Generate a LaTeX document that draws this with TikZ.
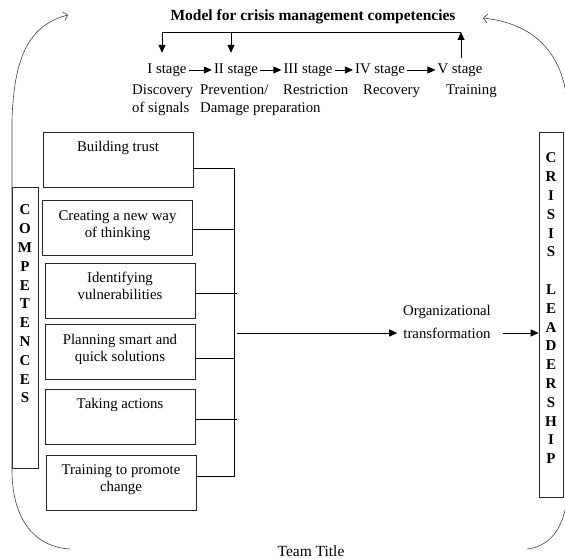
\documentclass[tikz,border=0pt]{standalone}
\usepackage{fontspec}
\setmainfont{Liberation Serif}
\usetikzlibrary{arrows.meta}
\tikzset{
  compbox/.style={draw=black!85, line width=0.7pt, inner sep=0pt, minimum width=150pt, minimum height=55pt},
  stage/.style={inner sep=2pt, text height=10pt, text depth=3pt, font=\fontsize{14.8}{17}\selectfont},
  desc/.style={inner sep=0pt, align=left, anchor=north west, font=\fontsize{14.8}{18}\selectfont},
  letterbox/.style={draw=black!85, line width=0.7pt, inner sep=0pt},
  arr/.style={-{Triangle[length=8pt,width=7pt]}, line width=0.8pt},
  cyclearrow/.style={-{Straight Barb[length=4pt,width=9pt]}, line width=0.6pt, black!75}
}
\newcommand{\boxlabel}[1]{\parbox[c][55pt][t]{150pt}{\centering\fontsize{14.8}{17}\selectfont\vspace*{8pt}\strut #1}}
\newcommand{\stackletters}[3]{\parbox[c][#1][t]{24pt}{\centering\fontsize{15}{18.8}\selectfont\bfseries\vspace*{#2}#3}}
\begin{document}
\begin{tikzpicture}[x=1pt,y=-1pt]
  \clip (0,0) rectangle (565,559);
  \node[font=\bfseries\fontsize{15.5}{18}\selectfont] (title) at (313,17) {Model for crisis management competencies};
  \node[stage] (s1) at (167,70) {I stage};
  \node[stage] (s2) at (236,70) {II stage};
  \node[stage] (s3) at (308,70) {III stage};
  \node[stage] (s4) at (380,70) {IV stage};
  \node[stage] (s5) at (460,70) {V stage};
  \node[desc] (d1) at (132,85) {Discovery\\of signals};
  \node[desc] (d2) at (200,85) {Prevention/\\Damage preparation};
  \node[desc] (d3) at (283,85) {Restriction};
  \node[desc] (d4) at (363,85) {Recovery};
  \node[desc] (d5) at (446,85) {Training};
  \coordinate (t1) at (162,32);
  \coordinate (t2) at (231,32);
  \coordinate (t5) at (461,32);
  \draw[line width=0.8pt] (t1) -- (t5);
  \draw[arr, shorten >=8.5pt] (t1) -- (t1 |- s1.north);
  \draw[arr, shorten >=8.5pt] (t2) -- (t2 |- s2.north);
  \draw[arr, shorten <=3.5pt] (t5 |- s5.north) -- (t5);
  \draw[arr] (s1.east) -- (s2.west);
  \draw[arr] (s2.east) -- (s3.west);
  \draw[arr] (s3.east) -- (s4.west);
  \draw[arr] (s4.east) -- (s5.west);

  \node[compbox] (trust) at (118,159.5) {\boxlabel{Building trust}};
  \node[compbox] (newway) at (117.5,228) {\boxlabel{Creating a new way\\of thinking}};
  \node[compbox] (vuln) at (120,290.5) {\boxlabel{Identifying\\vulnerabilities}};
  \node[compbox] (plan) at (120,352) {\boxlabel{Planning smart and\\quick solutions}};
  \node[compbox] (action) at (120,416.5) {\boxlabel{Taking actions}};
  \node[compbox] (change) at (121,482.5) {\boxlabel{Training to promote\\change}};

  \node[letterbox, minimum width=26pt, minimum height=281pt] (comp) at (25,327.5)
    {\stackletters{281pt}{18pt}{C\\O\\M\\P\\E\\T\\E\\N\\C\\E\\S}};
  \node[letterbox, minimum width=24pt, minimum height=365pt] (lead) at (551,314.5)
    {\stackletters{365pt}{21pt}{C\\R\\I\\S\\I\\S\\[18.8pt]L\\E\\A\\D\\E\\R\\S\\H\\I\\P}};

  \coordinate (j1) at (234,168);
  \coordinate (j2) at (234,229);
  \coordinate (j3) at (237,293);
  \coordinate (j4) at (234,358);
  \coordinate (j5) at (237,419);
  \coordinate (j6) at (234,476);
  \coordinate (hub) at (237,333);
  \begin{scope}[line width=0.8pt]
    \draw (trust.east |- j1) -- (j1) -- (j6) -- (change.east |- j6);
    \draw (newway.east |- j2) -- (j2);
    \draw (vuln.east |- j3) -- (j3);
    \draw (plan.east |- j4) -- (j4);
    \draw (action.east |- j5) -- (j5);
  \end{scope}

  \node[font=\fontsize{14.8}{17}\selectfont, inner sep=2pt] (org) at (447,312) {Organizational};
  \node[font=\fontsize{14.8}{17}\selectfont, inner sep=2pt] (transf) at (447,333) {transformation};
  \draw[arr, shorten >=4pt] (hub) -- (transf.west);
  \draw[arr, shorten <=10pt] (transf.east) -- (lead.west |- transf);

  \node[font=\fontsize{15.5}{18}\selectfont] (team) at (311,551) {Team Title};

  \draw[cyclearrow] (70,549) .. controls (35,547) and (12,520) .. (12,470) -- (12,120)
    .. controls (14,55) and (30,25) .. (68,15);
  \draw[cyclearrow] (527,549) .. controls (545,547) and (562,535) .. (567,500) -- (567,100)
    .. controls (560,40) and (520,22) .. (483,18);
\end{tikzpicture}
\end{document}
